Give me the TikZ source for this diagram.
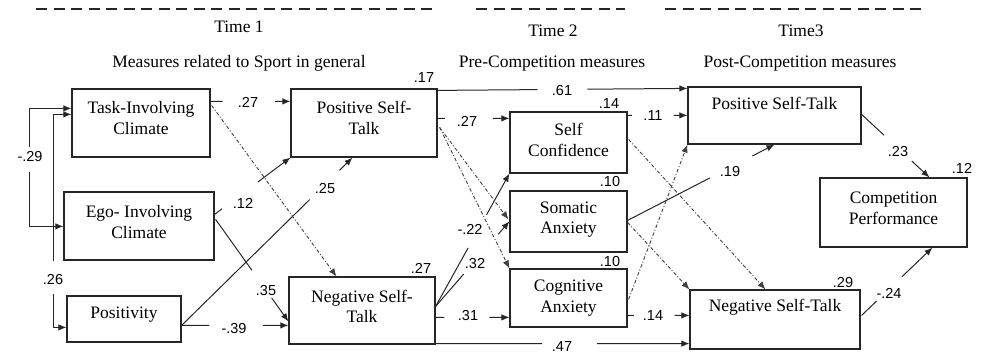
\documentclass[tikz,border=0pt]{standalone}
\usepackage{fontspec}
\setmainfont{Liberation Serif}
\newfontfamily\numfont{Liberation Sans}
\usetikzlibrary{calc,arrows.meta}
\newcommand\brkline[5]{%
  \draw[#1] (#2) -- ($(#2)!#4!(#3)$);
  \draw[#1,arr] ($(#2)!#5!(#3)$) -- (#3);}
\begin{document}
\begin{tikzpicture}[x=1pt,y=-1pt,
  box/.style={draw=black!85,line width=1.2pt,inner sep=0pt,align=center,
    font=\fontsize{17.5}{20.5}\selectfont},
  ttl/.style={inner sep=0pt,font=\fontsize{17.5}{20.5}\selectfont},
  num/.style={inner sep=0pt,font=\numfont\fontsize{14.5}{16}\selectfont},
  conn/.style={line width=1pt,draw=black!85},
  dd/.style={line width=0.9pt,draw=black!75,dash pattern=on 3.5pt off 2pt on 1pt off 2pt},
  arr/.style={-{Latex[length=8pt,width=6.5pt]}},
  topdash/.style={line width=1.8pt,draw=black!85,dash pattern=on 11pt off 6.5pt}]
\useasboundingbox (0,0) rectangle (981,354);
\fill[white] (0,0) rectangle (981,354);

% time bars
\draw[topdash] (36,9) -- (437,9);
\draw[topdash] (476,9) -- (625,9);
\draw[topdash] (665,9) -- (922,9);

% titles
\node[ttl] (t1) at (239,27) {Time 1};
\node[ttl] (t2) at (553,31) {Time 2};
\node[ttl] (t3) at (801,31) {Time3};
\node[ttl] (m1) at (239,63) {Measures related to Sport in general};
\node[ttl] (m2) at (552,64) {Pre-Competition measures};
\node[ttl] (m3) at (800,64) {Post-Competition measures};

% boxes
\node[box,minimum width=138pt,minimum height=68pt,text depth=10pt] (task) at (141,123) {Task-Involving\\Climate};
\node[box,minimum width=146pt,minimum height=68pt,text depth=10pt] (pst1) at (364,123) {Positive Self-\\Talk};
\node[box,minimum width=150pt,minimum height=68pt,text depth=8pt] (ego) at (139,226) {Ego- Involving\\Climate};
\node[box,minimum width=114pt,minimum height=46pt,text depth=13.5pt] (pos) at (124,319) {Positivity};
\node[box,minimum width=146pt,minimum height=67pt,text depth=8pt] (nst1) at (362,310.5) {Negative Self-\\Talk};
\node[box,minimum width=117pt,minimum height=61pt,text depth=5pt] (sc) at (568.5,142.5) {Self\\Confidence};
\node[box,minimum width=117pt,minimum height=61pt,text depth=7.8pt] (som) at (568.5,221.5) {Somatic\\Anxiety};
\node[box,minimum width=117pt,minimum height=58pt] (cog) at (568.5,298) {Cognitive\\Anxiety};
\node[box,minimum width=173pt,minimum height=57pt] (pst3) at (774.5,115.5) {};
\node[ttl] (pst3t) at (774.5,103) {Positive Self-Talk};
\node[box,minimum width=170pt,minimum height=59pt] (nst3) at (775,319.5) {};
\node[ttl] (nst3t) at (775,307) {Negative Self-Talk};
\node[box,minimum width=147pt,minimum height=69pt,text depth=9pt] (cp) at (893.5,212.5) {Competition\\Performance};

% R2 values
\node[num] (r1) at (424,78) {.17};
\node[num] (r2) at (421,268) {.27};
\node[num] (r3) at (609,104) {.14};
\node[num] (r4) at (610,182) {.10};
\node[num] (r5) at (610,262) {.10};
\node[num] (r6) at (843,283) {.29};
\node[num] (r7) at (962,168) {.12};

% coordinates
\coordinate (c1s) at ($(task.north east)+(0,13)$);
\coordinate (c1e) at ($(pst1.north west)+(0,13)$);
\coordinate (c2s) at ($(task.north east)+(1,17)$);
\coordinate (c2e) at ($(nst1.north west)+(48,0)$);
\coordinate (c3s) at ($(ego.north east)+(0,23)$);
\coordinate (c4s) at ($(ego.north east)+(1,28)$);
\coordinate (c4e) at ($(nst1.north west)+(0,45)$);
\coordinate (c5s) at ($(pos.north east)+(0,30)$);
\coordinate (c5e) at ($(pst1.south west)+(62,0)$);
\coordinate (c6e) at ($(nst1.north west)+(0,49)$);
\coordinate (c7a) at ($(task.north west)+(-42,59)$);
\coordinate (c7b) at ($(task.north west)+(0,20)$);
\coordinate (c7c) at ($(task.north west)+(-42,84)$);
\coordinate (c7d) at ($(ego.north west)+(0,35)$);
\coordinate (c8a) at ($(task.north west)+(-18,173)$);
\coordinate (c8b) at ($(task.north west)+(0,26)$);
\coordinate (c8c) at ($(pos.north west)+(-13,-1)$);
\coordinate (c8d) at ($(pos.north west)+(0,32)$);
\coordinate (c9s) at ($(pst1.north east)+(0,30)$);
\coordinate (c9e) at ($(sc.north west)+(0,7)$);
\coordinate (c10s) at ($(pst1.north east)+(2,39)$);
\coordinate (c10e) at ($(som.north west)+(-1,29)$);
\coordinate (c12s) at ($(pst1.north east)+(0,2)$);
\coordinate (c12e) at ($(pst3.north west)+(0,2)$);
\coordinate (c13s) at ($(nst1.north east)+(0,30)$);
\coordinate (c14e) at ($(som.north west)+(0,31)$);
\coordinate (c15s) at ($(nst1.north east)+(0,41)$);
\coordinate (c15e) at ($(cog.north west)+(0,49)$);
\coordinate (c16s) at ($(nst1.south east)+(0,-1)$);
\coordinate (c16e) at ($(nst3.south west)+(0,-6)$);
\coordinate (c17s) at ($(sc.north east)+(0,4)$);
\coordinate (c17e) at ($(pst3.north west)+(0,29)$);
\coordinate (c18s) at ($(sc.north east)+(1,28)$);
\coordinate (c18e) at ($(nst3.north west)+(76,0)$);
\coordinate (c19s) at ($(som.north east)+(0,30)$);
\coordinate (c19e) at ($(pst3.south west)+(87,0)$);
\coordinate (c20s) at ($(som.north east)+(0,32)$);
\coordinate (c21s) at ($(cog.north east)+(1,31)$);
\coordinate (c22s) at ($(cog.north east)+(0,47)$);
\coordinate (c22e) at ($(nst3.north west)+(0,26)$);
\coordinate (c23s) at ($(pst3.north east)+(0,28)$);
\coordinate (c23e) at ($(cp.north west)+(110,0)$);
\coordinate (c24s) at ($(nst3.north east)+(1,26)$);
\coordinate (c24e) at ($(cp.south west)+(113,0)$);

% correlations on the left
\draw[conn,arr] (c7a) |- (c7b);
\draw[conn,arr] (c7c) |- (c7d);
\node[num] (l29) at (30,157) {-.29};
\draw[conn,arr] (c8a) |- (c8b);
\draw[conn,arr] (c8c) |- (c8d);
\node[num] (l26) at (53,280) {.26};

% solid paths with labels
\brkline{conn}{c1s}{c1e}{0.15}{0.81}
\node[num] (l1) at (248,102) {.27};
\brkline{conn}{c3s}{pst1.south west}{0.1}{0.57}
\node[num] (l3) at (243,203) {.12};
\brkline{conn}{c4s}{c4e}{0.5}{0.77}
\node[num] (l4) at (266,291) {.35};
\brkline{conn}{c5s}{c5e}{0.75}{0.924}
\node[num] (l5) at (325,189) {.25};
\brkline{conn}{c5s}{c6e}{0.26}{0.76}
\node[num] (l6) at (234,328) {-.39};
\brkline{conn}{c9s}{c9e}{0.1}{0.77}
\node[num] (l9) at (467,121) {.27};
\brkline{conn}{c12s}{c12e}{0.4}{0.6}
\node[num] (l12) at (562,91) {.61};
\brkline{conn}{c13s}{sc.south west}{0.44}{0.69}
\node[num] (l13) at (470,229) {-.22};
\brkline{conn}{c13s}{c14e}{0.38}{0.85}
\node[num] (l14) at (475,264) {.32};
\brkline{conn}{c15s}{c15e}{0.12}{0.73}
\node[num] (l15) at (468,315) {.31};
\brkline{conn}{c16s}{c16e}{0.42}{0.635}
\node[num] (l16) at (562,347) {.47};
\brkline{conn}{c17s}{c17e}{0.07}{0.77}
\node[num] (l17) at (653,116) {.11};
\brkline{conn}{c19s}{c19e}{0.56}{0.85}
\node[num] (l19) at (730,172) {.19};
\brkline{conn}{c22s}{c22e}{0.1}{0.76}
\node[num] (l22) at (653,316) {.14};
\brkline{conn}{c23s}{c23e}{0.33}{0.74}
\node[num] (l23) at (898,152) {.23};
\brkline{conn}{c24s}{c24e}{0.21}{0.57}
\node[num] (l24) at (889,293) {-.24};

% dash-dot paths
\draw[dd,arr] (c2s) -- (c2e);
\draw[dd,arr] (c10s) -- (c10e);
\draw[dd,arr] (c10s) -- (cog.north west);
\draw[dd,arr] (c18s) -- (c18e);
\draw[dd,arr] (c20s) -- (nst3.north west);
\draw[dd,arr] (c21s) -- (pst3.south west);
\end{tikzpicture}
\end{document}
